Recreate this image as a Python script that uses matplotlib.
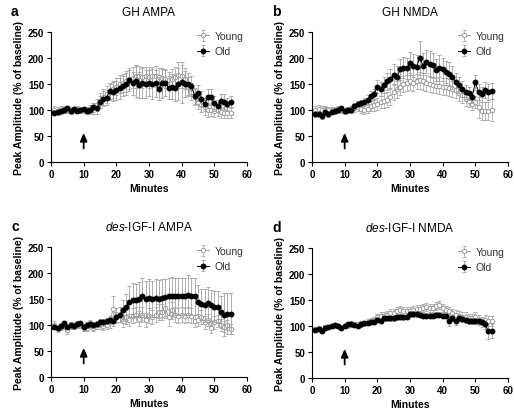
import numpy as np
import matplotlib
matplotlib.use('Agg')
import matplotlib.pyplot as plt

plt.rcParams['font.family'] = ['Liberation Sans', 'DejaVu Sans']
plt.rcParams['mathtext.fontset'] = 'custom'
plt.rcParams['mathtext.it'] = 'Liberation Sans:italic'
plt.rcParams['mathtext.rm'] = 'Liberation Sans'

minutes = np.arange(1, 56)

# ---- panel a: GH AMPA
a_young = [100, 98, 100, 101, 100, 99, 100, 101, 100, 100, 99, 101, 103, 110, 118, 125, 130, 135, 140, 145,
           150, 152, 155, 160, 162, 165, 165, 163, 165, 163, 165, 165, 163, 162, 160, 158, 160, 163, 168, 165,
           160, 145, 135, 125, 115, 110, 105, 100, 100, 98, 100, 97, 95, 95, 95]
a_young_err = [8, 7, 8, 7, 6, 7, 6, 7, 6, 6, 7, 8, 10, 12, 14, 15, 16, 15, 16, 17,
               18, 18, 20, 20, 20, 22, 20, 20, 18, 20, 18, 20, 18, 18, 18, 16, 18, 20, 25, 22,
               20, 18, 16, 15, 14, 14, 14, 13, 12, 12, 12, 12, 10, 10, 10]
a_old = [95, 96, 99, 100, 103, 98, 101, 99, 100, 101, 98, 100, 105, 103, 115, 122, 124, 136, 135, 138,
         142, 146, 150, 157, 151, 155, 148, 152, 150, 152, 150, 151, 141, 151, 152, 143, 145, 143, 150, 153,
         150, 150, 146, 127, 133, 122, 111, 125, 125, 113, 108, 117, 116, 112, 115]
a_old_err = [5, 5, 5, 5, 5, 5, 5, 5, 5, 5, 5, 6, 8, 10, 12, 14, 15, 15, 18, 18,
             20, 20, 22, 20, 22, 30, 25, 28, 26, 25, 28, 26, 22, 28, 25, 22, 24, 25, 30, 40,
             25, 22, 20, 15, 15, 14, 12, 15, 15, 14, 12, 14, 14, 12, 12]

# ---- panel b: GH NMDA
b_young = [100, 102, 100, 101, 100, 100, 99, 101, 100, 98, 100, 102, 104, 105, 102, 100, 102, 108, 110, 112,
           115, 118, 120, 125, 135, 140, 145, 150, 152, 155, 152, 155, 157, 155, 152, 150, 148, 147, 147, 145,
           145, 143, 140, 138, 132, 128, 122, 118, 112, 115, 105, 98, 98, 98, 100]
b_young_err = [8, 8, 7, 7, 6, 6, 6, 6, 6, 6, 6, 6, 7, 7, 7, 7, 8, 10, 12, 12,
               12, 14, 14, 15, 15, 16, 16, 15, 15, 16, 16, 15, 16, 16, 15, 15, 15, 15, 16, 16,
               16, 16, 15, 15, 14, 14, 14, 12, 12, 12, 20, 18, 18, 18, 22]
b_old = [92, 92, 88, 97, 93, 97, 99, 100, 103, 98, 100, 100, 108, 112, 113, 115, 120, 127, 130, 145,
         140, 148, 155, 160, 168, 163, 178, 181, 180, 190, 185, 183, 200, 185, 193, 188, 186, 177, 180, 178,
         173, 170, 163, 153, 148, 140, 135, 132, 125, 153, 135, 130, 138, 135, 137]
b_old_err = [6, 6, 6, 6, 6, 5, 5, 5, 5, 5, 5, 5, 6, 6, 6, 8, 8, 10, 10, 12,
             14, 15, 16, 18, 20, 22, 20, 20, 20, 22, 22, 22, 32, 25, 22, 25, 24, 22, 25, 22,
             22, 22, 22, 18, 16, 15, 14, 12, 12, 15, 15, 15, 15, 15, 15]

# ---- panel c: des-IGF-I AMPA
c_young = [100, 92, 97, 100, 90, 98, 98, 100, 100, 95, 95, 102, 95, 100, 100, 98, 100, 105, 130, 118,
           120, 108, 115, 110, 118, 120, 112, 120, 110, 118, 115, 120, 125, 125, 132, 115, 128, 120, 118, 120,
           118, 120, 118, 108, 110, 115, 105, 110, 95, 105, 108, 100, 97, 100, 92]
c_young_err = [8, 6, 6, 7, 8, 6, 6, 6, 6, 6, 6, 8, 7, 7, 8, 8, 8, 10, 25, 15,
               15, 12, 14, 12, 15, 15, 14, 14, 14, 15, 14, 15, 15, 16, 18, 16, 16, 15, 15, 15,
               15, 15, 15, 12, 12, 14, 12, 12, 10, 12, 12, 12, 10, 10, 10]
c_old = [97, 95, 98, 103, 97, 100, 98, 102, 103, 97, 100, 102, 100, 102, 105, 105, 108, 110, 107, 115,
         120, 128, 135, 145, 148, 148, 150, 155, 150, 152, 150, 152, 150, 152, 153, 155, 155, 155, 155, 155,
         155, 158, 155, 155, 145, 140, 138, 142, 138, 135, 135, 125, 120, 122, 122]
c_old_err = [5, 5, 5, 5, 5, 5, 5, 5, 5, 5, 5, 5, 5, 5, 6, 6, 6, 8, 8, 10,
             15, 20, 25, 30, 32, 30, 32, 35, 35, 36, 35, 36, 36, 36, 36, 36, 38, 36, 36, 35,
             35, 38, 35, 35, 32, 30, 32, 32, 30, 30, 30, 30, 42, 40, 40]

# ---- panel d: des-IGF-I NMDA
d_young = [95, 96, 93, 98, 98, 100, 101, 100, 98, 100, 102, 105, 103, 103, 105, 105, 108, 110, 112, 118,
           120, 120, 122, 125, 125, 128, 130, 128, 128, 128, 130, 132, 133, 135, 137, 135, 135, 138, 140, 135,
           130, 128, 125, 122, 120, 118, 118, 116, 115, 117, 112, 108, 112, 110, 110]
d_young_err = [4, 4, 4, 4, 4, 4, 4, 4, 4, 4, 5, 5, 5, 5, 5, 5, 5, 6, 6, 6,
               7, 7, 7, 7, 8, 8, 8, 8, 8, 8, 8, 8, 8, 8, 8, 8, 8, 8, 8, 8,
               8, 8, 8, 8, 8, 8, 8, 8, 8, 10, 10, 10, 10, 10, 10]
d_old = [92, 95, 90, 97, 98, 100, 102, 100, 97, 100, 103, 103, 102, 100, 103, 105, 105, 108, 108, 112,
         110, 115, 115, 115, 115, 117, 118, 117, 118, 123, 123, 123, 122, 120, 120, 120, 120, 122, 122, 120,
         120, 110, 115, 110, 115, 113, 112, 110, 110, 110, 110, 107, 103, 90, 90]
d_old_err = [4, 4, 4, 4, 4, 4, 4, 4, 4, 4, 4, 4, 4, 4, 4, 4, 4, 5, 5, 5,
             5, 5, 5, 5, 5, 5, 5, 5, 5, 5, 5, 5, 5, 5, 5, 5, 5, 5, 5, 5,
             5, 10, 6, 8, 6, 6, 6, 6, 6, 6, 6, 6, 8, 15, 14]

panels = [
    ('a', 'GH AMPA', a_young, a_young_err, a_old, a_old_err),
    ('b', 'GH NMDA', b_young, b_young_err, b_old, b_old_err),
    ('c', r'$\it{des}$-IGF-I AMPA', c_young, c_young_err, c_old, c_old_err),
    ('d', r'$\it{des}$-IGF-I NMDA', d_young, d_young_err, d_old, d_old_err),
]

# axes rectangles in pixels (left, top)
W, H = 514, 410
rects = [(51, 33), (312, 33), (51, 248), (312, 249)]
ax_w, ax_h = 196, 130

fig = plt.figure(figsize=(W / 100, H / 100), dpi=100)
grey = '#9a9a9a'

for (letter, title, yy, ye, yo, oe), (lx, ty) in zip(panels, rects):
    ax = fig.add_axes([lx / W, 1 - (ty + ax_h) / H, ax_w / W, ax_h / H])
    ax.errorbar(minutes, yy, yerr=ye, color=grey, ecolor='#b0b0b0', elinewidth=0.6,
                capsize=1.5, capthick=0.6, lw=0.7, marker='o', ms=3.2,
                mfc='white', mec=grey, mew=0.7, label='Young', zorder=2)
    ax.errorbar(minutes, yo, yerr=oe, color='black', ecolor='#a0a0a0', elinewidth=0.6,
                capsize=1.5, capthick=0.6, lw=0.7, marker='o', ms=3.2,
                mfc='black', mec='black', label='Old', zorder=3)
    ax.set_xlim(0, 60)
    ax.set_ylim(0, 250)
    ax.set_xticks(range(0, 61, 10))
    ax.set_yticks(range(0, 251, 50))
    for s in ['top', 'right']:
        ax.spines[s].set_visible(False)
    for s in ['left', 'bottom']:
        ax.spines[s].set_linewidth(0.8)
    ax.tick_params(direction='out', length=3, width=0.8, labelsize=7, pad=2)
    for lab in ax.get_xticklabels() + ax.get_yticklabels():
        lab.set_fontweight('bold')
    ax.set_xlabel('Minutes', fontsize=7.5, fontweight='bold', labelpad=3)
    ax.set_ylabel('Peak Amplitude (% of baseline)', fontsize=7.5, fontweight='bold', labelpad=3)
    ax.set_title(title, fontsize=8.5, pad=12)
    ax.annotate('', xy=(10, 56), xytext=(10, 26),
                arrowprops=dict(arrowstyle='-|>,head_width=0.35,head_length=0.8',
                                mutation_scale=6, color='black', lw=1.3,
                                shrinkA=0, shrinkB=0))
    leg = ax.legend(loc='upper right', bbox_to_anchor=(1.03, 1.08), frameon=False,
                    fontsize=7.5, handlelength=1.2, handletextpad=0.5, labelspacing=0.5)
    for t in leg.get_texts():
        t.set_color('#333333')
    fig.text((lx - 40) / W, 1 - (ty - 28) / H, letter, fontsize=10, fontweight='bold',
             va='top', ha='left')

fig.savefig('out.png', dpi=100)
